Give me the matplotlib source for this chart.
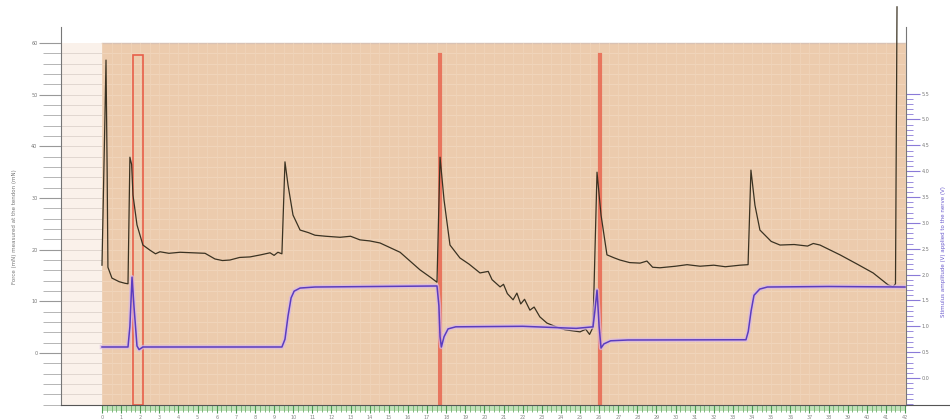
import numpy as np
import matplotlib.pyplot as plt
from matplotlib.patches import Rectangle
from matplotlib.lines import Line2D

# Trazo negro (eje izquierdo): tiempo y valor
t_black = [0.0, 0.15, 0.21, 0.27, 0.31, 0.52, 0.9, 1.2, 1.36, 1.46, 1.55, 1.62, 1.83, 2.14,
           2.51, 2.8, 3.03, 3.5, 4.08, 5.39, 5.91, 6.3, 6.69, 7.2, 7.74, 8.3, 8.79, 9.0, 9.2,
           9.41, 9.57, 9.73, 9.99, 10.36, 10.8, 11.14, 11.7, 12.45, 13.0, 13.49, 14.0, 14.54,
           15.59, 16.63, 17.2, 17.52, 17.68, 17.89, 18.2, 18.72, 19.2, 19.77, 20.2, 20.4,
           20.82, 21.0, 21.2, 21.5, 21.7, 21.9, 22.1, 22.38, 22.6, 22.9, 23.27, 23.8, 24.22,
           24.6, 25.0, 25.3, 25.5, 25.68, 25.89, 26.1, 26.41, 26.8, 27.09, 27.6, 28.14, 28.5,
           28.8, 29.18, 30.0, 30.6, 31.28, 32.0, 32.6, 33.37, 33.79, 33.94, 34.15, 34.41, 35.0,
           35.46, 36.2, 36.9, 37.2, 37.55, 38.6, 39.5, 40.33, 41.11, 41.37, 41.5, 41.58]
v_black = [17.0, 45.0, 56.7, 35.0, 16.6, 14.5, 13.8, 13.5, 13.4, 37.9, 36.5, 30.6, 24.8, 20.9,
           19.9, 19.2, 19.6, 19.3, 19.5, 19.3, 18.2, 17.9, 18.0, 18.5, 18.6, 19.0, 19.4, 18.9, 19.5,
           19.2, 37.0, 32.5, 26.7, 23.8, 23.3, 22.8, 22.6, 22.4, 22.6, 21.9, 21.7, 21.3,
           19.5, 16.1, 14.6, 13.7, 37.9, 29.6, 20.9, 18.4, 17.2, 15.5, 15.8, 14.2,
           12.8, 13.3, 11.5, 10.3, 11.6, 9.5, 10.4, 8.3, 8.9, 7.0, 5.8, 5.0, 4.5,
           4.3, 4.1, 4.6, 3.6, 5.0, 35.0, 26.7, 19.0, 18.4, 18.0, 17.5, 17.4, 17.8,
           16.6, 16.5, 16.8, 17.1, 16.8, 17.0, 16.7, 17.0, 17.1, 35.4, 28.6, 23.8, 21.6,
           20.9, 21.0, 20.7, 21.2, 20.9, 19.0, 17.2, 15.5, 13.2, 12.8, 13.4, 67.0]

# Trazo azul (eje derecho)
t_blue = [0.0, 1.36, 1.46, 1.57, 1.67, 1.83, 1.94, 2.14, 9.41, 9.57, 9.73, 9.89, 10.05, 10.36,
          11.14, 17.52, 17.62, 17.68, 17.75, 17.89, 18.1, 18.5, 22.0, 24.8, 25.68, 25.78, 25.89,
          26.0, 26.1, 26.25, 26.6, 27.5, 33.68, 33.8, 33.95, 34.1, 34.4, 34.8, 38.0, 42.0]
v_blue = [0.60, 0.60, 1.0, 1.95, 1.4, 0.62, 0.55, 0.60, 0.60, 0.75, 1.2, 1.55, 1.68, 1.74,
          1.76, 1.78, 1.4, 0.8, 0.60, 0.8, 0.95, 0.99, 1.0, 0.96, 0.99, 1.3, 1.70,
          1.0, 0.58, 0.66, 0.72, 0.735, 0.74, 0.9, 1.3, 1.6, 1.72, 1.76, 1.77, 1.76]

# Marcadores rojos
t_marks = [17.68, 26.05]
box_t = (1.62, 2.14)

left_ticks = [0, 10, 20, 30, 40, 50, 60]
right_ticks = [0.0, 0.5, 1.0, 1.5, 2.0, 2.5, 3.0, 3.5, 4.0, 4.5, 5.0, 5.5]
x_ticks = list(range(0, 43))

tan = '#eccbad'
fig = plt.figure(figsize=(9.5, 4.19), dpi=100)
ax = fig.add_axes([61 / 950, 14 / 419, 845 / 950, 378 / 419])
ax.set_xlim(-2.144, 42.05)
ax.set_ylim(-10.06, 63.1)
ax.set_facecolor('white')

# fondos
ax.add_patch(Rectangle((-2.144, -10.06), 2.144, 70.06, facecolor='#faf1ea', edgecolor='none', zorder=0))
ax.add_patch(Rectangle((0, -10.06), 42.05, 70.06, facecolor=tan, edgecolor='none', zorder=0))
ax.plot([0, 42.05], [60, 60], color='#d9c2b4', lw=1.0, zorder=1)

# rejilla
for y in np.arange(-10, 60, 2):
    ax.plot([-2.144, 0], [y, y], color='#ddd3cc', lw=0.6, zorder=1)
    ax.plot([0, 42.05], [y, y], color='#f1d6bd', lw=0.6, zorder=1)
for x in np.arange(0, 42.05, 0.5):
    ax.plot([x, x], [-10.06, 60], color='#efd3b8', lw=0.6, zorder=1)

# marcadores rojos
ax.add_patch(Rectangle((box_t[0], -10.06), box_t[1] - box_t[0], 57.7 + 10.06,
                       facecolor='none', edgecolor='#e8604a', lw=1.2, zorder=2))
for tm in t_marks:
    ax.plot([tm, tm], [-10.06, 57.7], color='#e8604a', lw=3.0, alpha=0.8, zorder=2)

# trazo negro
ax.plot(t_black, v_black, color='#3a3222', lw=0.9, zorder=4, clip_on=False)

# eje derecho
ax2 = ax.twinx()
ax2.set_ylim(-0.522, 6.789)
ax2.plot(t_blue, v_blue, color='#d9b8e6', lw=3.2, alpha=0.7, zorder=3)
ax2.plot(t_blue, v_blue, color='#5a3cc0', lw=1.1, zorder=4)

# ejes
for a in (ax, ax2):
    a.spines['top'].set_visible(False)
ax.spines['right'].set_visible(False)
ax.spines['left'].set_color('#777777')
ax.spines['bottom'].set_color('#555555')
ax2.spines['left'].set_visible(False)
ax2.spines['bottom'].set_visible(False)
ax2.spines['right'].set_color('#777777')

ax.set_yticks(left_ticks)
ax.set_yticklabels([str(v) for v in left_ticks])
ax.set_yticks(np.arange(-10, 61, 2), minor=True)
ax.tick_params(axis='y', which='major', length=16, color='#999999', labelsize=3.5,
               labelcolor='#777777', pad=1)
ax.tick_params(axis='y', which='minor', length=13, color='#aaaaaa')

ax.set_xticks(x_ticks)
ax.set_xticklabels([str(v) for v in x_ticks])
ax.set_xticks(np.arange(0, 42.01, 0.25), minor=True)
ax.tick_params(axis='x', which='major', length=6, color='#4f9a55', labelsize=3.5,
               labelcolor='#888888', pad=1)
ax.tick_params(axis='x', which='minor', length=5, color='#6fb070')
ax.add_patch(Rectangle((0, -0.016), 42.05, 0.016, transform=ax.get_xaxis_transform(),
                       facecolor='#bfe0b8', edgecolor='none', clip_on=False, zorder=0))

ax2.set_yticks(right_ticks)
ax2.set_yticklabels([f'{v:.1f}' for v in right_ticks])
ax2.set_yticks(np.arange(-0.5, 5.51, 0.1), minor=True)
ax2.tick_params(axis='y', which='major', length=10, color='#8a7ad8', labelsize=3.5,
                labelcolor='#777777', pad=1)
ax2.tick_params(axis='y', which='minor', length=5, color='#8a7ad8')

# prolongación de la línea base
fig.add_artist(Line2D([906 / 950, 1.0], [14 / 419, 14 / 419], color='#555555', lw=0.8))

fig.text(15 / 950, 0.46, 'Force (mN) measured at the tendon (mN)', rotation=90,
         fontsize=4, color='#777777', ha='center', va='center')
fig.text(943 / 950, 0.40, 'Stimulus amplitude (V) applied to the nerve (V)', rotation=90,
         fontsize=4, color='#6a5acd', ha='center', va='center')

plt.savefig('out.png', dpi=100)
